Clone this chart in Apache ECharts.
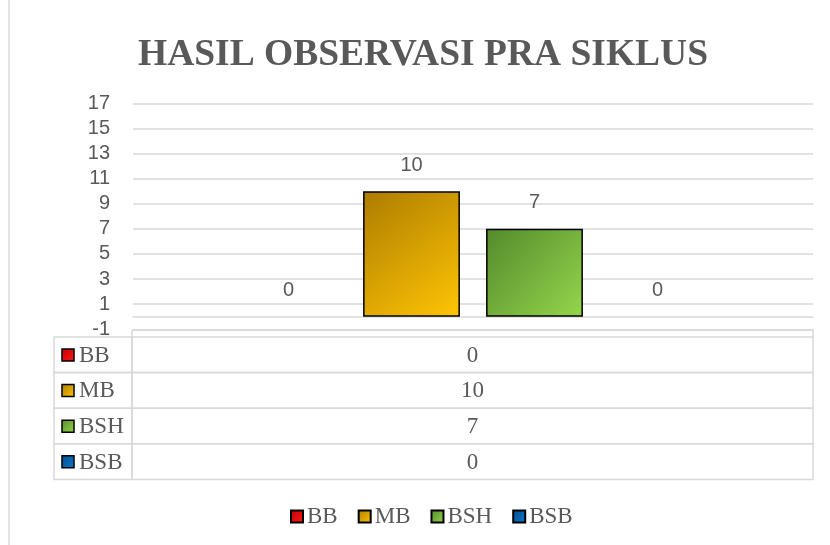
<!DOCTYPE html>
<html>
<head>
<meta charset="utf-8">
<script src="https://cdn.jsdelivr.net/npm/echarts@6/dist/echarts.min.js"></script>
<style>
  html, body { margin: 0; padding: 0; background: #fff; }
  #chart { width: 830px; height: 545px; }
</style>
</head>
<body>
<div id="chart"></div>
<script>
(() => {
  const title = "HASIL OBSERVASI PRA SIKLUS";
  const categories = [""];
  const seriesNames = ["BB", "MB", "BSH", "BSB"];
  const seriesValues = [[0], [10], [7], [0]];
  const yTicks = { min: -1, max: 17, step: 2 };

  // gradient from top-left (dark) to bottom-right (light)
  const palette = [
    ["#c00000", "#ff1a1a"],
    ["#ad7c00", "#ffc505"],
    ["#548a2c", "#94d64c"],
    ["#004f8f", "#0a78d0"],
  ];
  const grad = (c) =>
    new echarts.graphic.LinearGradient(0, 0, 1, 1, [
      { offset: 0, color: c[0] },
      { offset: 1, color: c[1] },
    ]);

  const gray = "#595959";
  const lineGray = "#d9d9d9";
  const serif = '23px "Liberation Serif"';

  // data table under the plot
  const tLeft = 54, tMid = 132, tRight = 813, tTop = 337, rowH = 35.6;
  const graphic = [
    {
      type: "rect",
      shape: { x: 9, y: -2, width: 840, height: 560 },
      style: { fill: null, stroke: lineGray, lineWidth: 1.5 },
      silent: true,
    },
    {
      type: "polyline",
      shape: { points: [[tMid, 330], [tRight, 330], [tRight, tTop]] },
      style: { stroke: lineGray, lineWidth: 1.5, fill: null },
    },
    {
      type: "line",
      shape: { x1: tMid, y1: 330, x2: tMid, y2: tTop },
      style: { stroke: lineGray, lineWidth: 1.5 },
    },
  ];
  seriesNames.forEach((name, i) => {
    const y = tTop + i * rowH;
    graphic.push({
      type: "rect",
      shape: { x: tLeft, y: y, width: tMid - tLeft, height: rowH },
      style: { fill: null, stroke: lineGray, lineWidth: 1.5 },
    });
    graphic.push({
      type: "rect",
      shape: { x: tMid, y: y, width: tRight - tMid, height: rowH },
      style: { fill: null, stroke: lineGray, lineWidth: 1.5 },
    });
    graphic.push({
      type: "rect",
      shape: { x: 62, y: y + 12, width: 12, height: 12 },
      style: { fill: grad(palette[i]), stroke: "#000", lineWidth: 1.5 },
    });
    graphic.push({
      type: "text",
      x: 79,
      y: y + rowH / 2 + 1,
      style: { text: name, fill: gray, font: serif, verticalAlign: "middle" },
    });
    graphic.push({
      type: "text",
      x: (tMid + tRight) / 2,
      y: y + rowH / 2 + 1,
      style: {
        text: String(seriesValues[i][0]),
        fill: gray,
        font: serif,
        align: "center",
        verticalAlign: "middle",
      },
    });
  });

  let myChart = echarts.init(document.querySelector("#chart"));
  let option = {
    backgroundColor: "#fff",
    animation: false,
    title: {
      text: title,
      left: 418,
      textAlign: "center",
      top: 31,
      textStyle: {
        fontFamily: "Liberation Serif",
        fontWeight: "bold",
        fontSize: 37.5,
        color: gray,
      },
    },
    legend: {
      data: seriesNames,
      bottom: 12,
      left: 285,
      itemWidth: 12,
      itemHeight: 12,
      itemGap: 20,
      icon: "rect",
      textStyle: {
        fontFamily: "Liberation Serif",
        fontSize: 23,
        color: gray,
        padding: [0, 0, 0, -1],
      },
    },
    grid: {
      left: 133,
      right: 17,
      top: 103.3,
      bottom: 545 - 329.3,
    },
    xAxis: {
      type: "category",
      data: categories,
      axisLine: { onZero: true, lineStyle: { color: lineGray, width: 1.5 } },
      axisTick: { show: false },
      axisLabel: { show: false },
    },
    yAxis: {
      type: "value",
      min: yTicks.min,
      max: yTicks.max,
      interval: yTicks.step,
      axisLine: { show: false },
      axisTick: { show: false },
      axisLabel: {
        color: gray,
        fontFamily: "Liberation Sans",
        fontSize: 20,
        margin: 23,
      },
      splitLine: { lineStyle: { color: lineGray, width: 1.5 } },
    },
    series: seriesNames.map((name, i) => ({
      name: name,
      type: "bar",
      data: seriesValues[i].map((v) => ({
        value: v,
        itemStyle: v === 0 ? { borderWidth: 0 } : {},
      })),
      barGap: "27%",
      barCategoryGap: "31.5%",
      itemStyle: {
        color: grad(palette[i]),
        borderColor: "#000",
        borderWidth: 1.5,
      },
      label: {
        show: true,
        position: "top",
        distance: 16,
        color: gray,
        fontFamily: "Liberation Sans",
        fontSize: 20,
      },
    })),
    graphic: graphic,
  };
  myChart.setOption(option);
  window.addEventListener("resize", () => {
    myChart.resize();
  });
})();
</script>
</body>
</html>
